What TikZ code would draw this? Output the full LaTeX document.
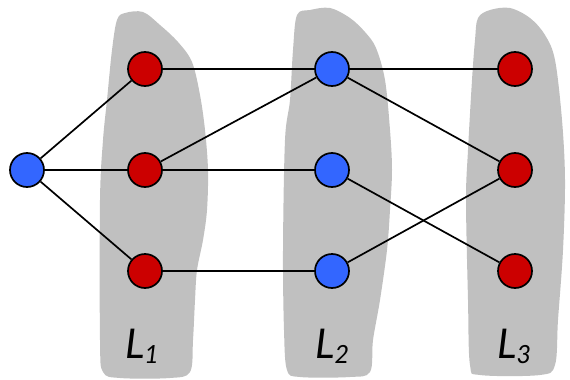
\documentclass[tikz,border=0pt]{standalone}
\usepackage{fontspec}
\usepackage{tikz}
\usetikzlibrary{positioning}
\newfontfamily\layerfont{Lato}
\definecolor{nodeblue}{RGB}{51,102,255}
\definecolor{nodered}{RGB}{204,0,0}
\definecolor{blobgray}{RGB}{192,192,192}
\newcommand{\layername}[1]{{\layerfont\itshape\fontsize{41}{48}\selectfont L\raisebox{-5pt}{\fontsize{25}{30}\selectfont #1}}}

\begin{document}
\begin{tikzpicture}[
    x=1pt, y=-1pt,
    ball/.style={circle, draw, line width=1.7pt, minimum size=34pt, inner sep=0pt},
    redball/.style={ball, fill=nodered},
    blueball/.style={ball, fill=nodeblue},
    edge/.style={line width=1.7pt},
    blob/.style={fill=blobgray, draw=none},
    layer/.style={anchor=base, inner sep=0pt},
    node distance=101pt and 187pt, on grid
]
    \useasboundingbox (0,0) rectangle (570,380);

    % layer regions
    \fill[blob] plot[smooth cycle, tension=0.55] coordinates {
        (117,20) (125,13) (143,12) (160,25) (178,42) (192,62) (200,95) (205,130)
        (208,170) (207,210) (203,240) (197,270) (195,300) (193,340) (190,372)
        (170,378) (120,378) (103,372) (100,340) (100,200) (103,140) (107,100) (112,50)};
    \fill[blob] plot[smooth cycle, tension=0.55] coordinates {
        (297,15) (310,10) (330,8) (350,18) (365,32) (376,48) (385,80) (390,130)
        (392,170) (390,210) (387,250) (380,300) (373,340) (370,372) (350,377)
        (300,377) (287,370) (284,330) (283,250) (285,140) (290,100) (293,50)};
    \fill[blob] plot[smooth cycle, tension=0.55] coordinates {
        (478,18) (490,10) (510,8) (530,18) (545,35) (555,60) (562,120) (565,180)
        (563,250) (558,320) (555,365) (540,375) (480,375) (470,365) (468,300)
        (466,200) (468,150) (472,80) (475,40)};

    \node[redball] (u2) at (145,170) {};
    \node[redball, above=of u2] (u1) {};
    \node[redball, below=of u2] (u3) {};
    \node[blueball, left=118pt of u2] (src) {};
    \node[blueball, right=of u2] (v2) {};
    \node[blueball, above=of v2] (v1) {};
    \node[blueball, below=of v2] (v3) {};
    \node[redball, right=183pt of v2] (w2) {};
    \node[redball, above=of w2] (w1) {};
    \node[redball, below=of w2] (w3) {};

    \node[layer] (l1) at (142,358) {\layername{1}};
    \node[layer] (l2) at (332,358) {\layername{2}};
    \node[layer] (l3) at (514,358) {\layername{3}};

    \draw[edge] (src) -- (u1);
    \draw[edge] (src) -- (u2);
    \draw[edge] (src) -- (u3);
    \draw[edge] (u1) -- (v1);
    \draw[edge] (u2) -- (v1);
    \draw[edge] (u2) -- (v2);
    \draw[edge] (u3) -- (v3);
    \draw[edge] (v1) -- (w1);
    \draw[edge] (v1) -- (w2);
    \draw[edge] (v2) -- (w3);
    \draw[edge] (v3) -- (w2);
\end{tikzpicture}
\end{document}
